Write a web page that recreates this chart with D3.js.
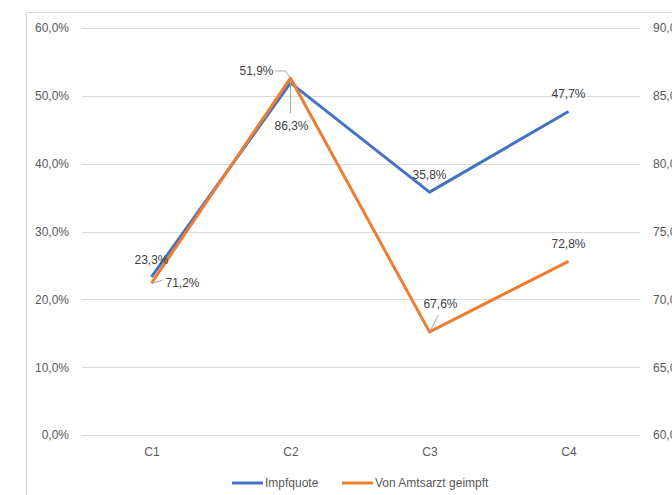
<!DOCTYPE html>
<html>
<head>
<meta charset="utf-8">
<script src="https://cdn.jsdelivr.net/npm/d3@7"></script>
<style>
  html, body { margin: 0; padding: 0; background: #fff; }
  svg { display: block; font-family: "Liberation Sans", Arial, sans-serif; }
</style>
</head>
<body>
<svg id="chart" width="672" height="495"></svg>
<script>
// ---- data ----
const categories = ["C1", "C2", "C3", "C4"];
const impfquote = [0.233, 0.519, 0.358, 0.477];
const amtsarzt = [0.712, 0.863, 0.676, 0.728];
const leftTicks = [0, 0.1, 0.2, 0.3, 0.4, 0.5, 0.6];
const rightTicks = [0.6, 0.65, 0.7, 0.75, 0.8, 0.85, 0.9];
const seriesNames = ["Impfquote", "Von Amtsarzt geimpft"];

// ---- setup ----
const svg = d3.select("#chart");
const W = 672, H = 495;
const plot = { left: 82, right: 638, top: 28, bottom: 435 };
const colors = ["#4472C4", "#ED7D31"];
const de = d3.formatLocale({ decimal: ",", thousands: ".", grouping: [3], currency: ["", " €"] });
const pct = de.format(".1%");

svg.append("rect").attr("width", W).attr("height", H).attr("fill", "#fff");
// chart area border (cropped like the reference)
svg.append("path")
  .attr("d", `M26.5,${H} V12.5 H${W}`)
  .attr("fill", "none").attr("stroke", "#d9d9d9").attr("stroke-width", 1);

const x = d3.scalePoint().domain(categories).range([plot.left, plot.right]).padding(0.5);
const yL = d3.scaleLinear().domain([0, 0.6]).range([plot.bottom, plot.top]);
const yR = d3.scaleLinear().domain([0.6, 0.9]).range([plot.bottom, plot.top]);

// gridlines
svg.append("g").selectAll("line").data(leftTicks).join("line")
  .attr("x1", plot.left).attr("x2", plot.right + 2)
  .attr("y1", d => Math.round(yL(d)) + 0.5).attr("y2", d => Math.round(yL(d)) + 0.5)
  .attr("stroke", "#d9d9d9").attr("stroke-width", 1);

// left axis
const gL = svg.append("g").attr("transform", `translate(${plot.left},0)`)
  .call(d3.axisLeft(yL).tickValues(leftTicks).tickFormat(pct).tickSize(0).tickPadding(13));
gL.select(".domain").remove();
gL.selectAll("text").attr("fill", "#595959").attr("font-size", 12).attr("font-family", "Liberation Sans, Arial, sans-serif");

// right axis
const gR = svg.append("g").attr("transform", `translate(${plot.right + 2},0)`)
  .call(d3.axisRight(yR).tickValues(rightTicks).tickFormat(pct).tickSize(0).tickPadding(13));
gR.select(".domain").remove();
gR.selectAll("text").attr("fill", "#595959").attr("font-size", 12).attr("font-family", "Liberation Sans, Arial, sans-serif");

// x axis labels
const gX = svg.append("g").attr("transform", `translate(0,${plot.bottom})`)
  .call(d3.axisBottom(x).tickSize(0).tickPadding(12));
gX.select(".domain").remove();
gX.selectAll("text").attr("fill", "#595959").attr("font-size", 12).attr("font-family", "Liberation Sans, Arial, sans-serif");

// lines
const lineL = d3.line().x((d, i) => x(categories[i])).y(d => yL(d));
const lineR = d3.line().x((d, i) => x(categories[i])).y(d => yR(d));
svg.append("path").datum(impfquote).attr("d", lineL)
  .attr("fill", "none").attr("stroke", colors[0]).attr("stroke-width", 3).attr("stroke-linejoin", "round");
svg.append("path").datum(amtsarzt).attr("d", lineR)
  .attr("fill", "none").attr("stroke", colors[1]).attr("stroke-width", 3).attr("stroke-linejoin", "round");

// data labels (placement offsets relative to each point)
const placeL = [
  { dx: 0, dy: -17 },
  { dx: -34, dy: -12, leader: [[-15, -12], [-5, -12], [-1, -6]] },
  { dx: 0, dy: -17 },
  { dx: 0, dy: -17 }
];
const placeR = [
  { dx: 31, dy: 0, leader: [[2, 0], [11, -3]] },
  { dx: 1, dy: 48, leader: [[0, 2], [0, 35]] },
  { dx: 11, dy: -28, leader: [[0, 0], [9, -17]] },
  { dx: 0, dy: -17 }
];
function drawLabels(vals, yS, place) {
  vals.forEach((v, i) => {
    const px = x(categories[i]), py = yS(v), p = place[i];
    if (p.leader) {
      svg.append("path")
        .attr("d", d3.line()(p.leader.map(q => [px + q[0], py + q[1]])))
        .attr("fill", "none").attr("stroke", "#a6a6a6").attr("stroke-width", 1);
    }
    svg.append("text").attr("x", px + p.dx).attr("y", py + p.dy)
      .attr("text-anchor", "middle").attr("dominant-baseline", "central")
      .attr("font-size", 12).attr("fill", "#404040").text(pct(v));
  });
}
drawLabels(impfquote, yL, placeL);
drawLabels(amtsarzt, yR, placeR);

// legend
const legend = svg.append("g");
const legItems = [{ x: 232, name: seriesNames[0], c: colors[0] }, { x: 342, name: seriesNames[1], c: colors[1] }];
legItems.forEach(it => {
  legend.append("line").attr("x1", it.x).attr("x2", it.x + 31).attr("y1", 483).attr("y2", 483)
    .attr("stroke", it.c).attr("stroke-width", 3);
  legend.append("text").attr("x", it.x + 33).attr("y", 483).attr("dominant-baseline", "central")
    .attr("font-size", 12).attr("fill", "#595959").text(it.name);
});
</script>
</body>
</html>
